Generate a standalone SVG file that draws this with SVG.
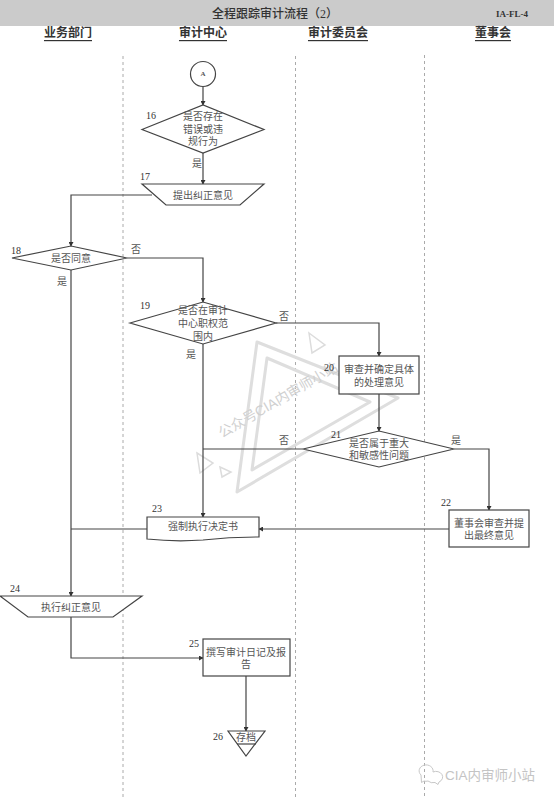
<svg xmlns="http://www.w3.org/2000/svg" width="554" height="799" viewBox="0 0 554 799">
<style>
text{font-family:"Liberation Serif","Noto Sans CJK SC",serif;fill:#555;font-size:10px;text-anchor:middle;dominant-baseline:central}
.n{text-anchor:start;fill:#333}
.h{font-size:12px;font-weight:700;fill:#333;text-decoration:underline}
.s{fill:#fff;stroke:#444;stroke-width:1.200}
.c{fill:none;stroke:#444;stroke-width:1.200}
.a{marker-end:url(#ar)}
.d{stroke:#aaa;stroke-width:1;stroke-dasharray:3 3;fill:none}
.w{fill:none;stroke:#dedede;stroke-width:3;stroke-linejoin:round}
.w2{fill:none;stroke:#dcdcdc;stroke-width:1.500}
.wt{fill:#d0d0d0;font-family:"Liberation Sans","Noto Sans CJK SC",sans-serif}
</style>
<defs><marker id="ar" markerWidth="5" markerHeight="5" refX="4" refY="2.5" orient="auto" markerUnits="userSpaceOnUse"><path d="M0 0L4.500 2.500L0 5Z" fill="#333"/></marker></defs>
<rect width="554" height="799" fill="#fff"/>
<g id="header">
<rect width="554" height="26" fill="#cbcbcb"/>
<text x="275" y="13.500" style="font-size:12px;font-weight:500;fill:#333">全程跟踪审计流程（2）</text>
<text x="512" y="14" style="font-size:9px;font-weight:700;fill:#333">IA-FL-4</text>
<text class="h" x="68" y="33">业务部门</text>
<text class="h" x="203" y="33">审计中心</text>
<text class="h" x="338" y="33">审计委员会</text>
<text class="h" x="493" y="33">董事会</text>
</g>
<g id="lanes">
<path class="d" d="M123 56V799M295.500 56V799M424.500 55V799"/>
</g>
<g id="watermark">
<path class="w" d="M237 492L257 342L398 398Z"/>
<path class="w" d="M252 470L267 358L370 402Z"/>
<path class="w2" d="M309 333L325 345L312 353Z"/>
<path class="w2" d="M197 453L213 463L200 473Z"/>
<path class="w2" d="M220 467L231 472L222 477Z"/>
<text class="wt" transform="translate(278 400) rotate(-30)" style="font-size:14px">公众号CIA内审师小站</text>
<text class="wt" x="490" y="775" style="font-size:13.500px;fill:#c4c4c4">CIA内审师小站</text>
<path class="w2" style="stroke:#c8c8c8;stroke-width:1" d="M421 775a7 6 0 1 1 12 -3a6.500 5.500 0 1 1 6 10l-1 2.500l-3 -2a7 6 0 0 1 -7 -1.500a6 5 0 0 1 -4 0l-2.500 1.500Z"/>
</g>
<g id="connectors">
<path class="c a" d="M203 87V105"/>
<path class="c a" d="M203 153V184"/>
<path class="c a" d="M152 195H71V246"/>
<path class="c a" d="M127 258H203V302"/>
<path class="c a" d="M276 323H379V356"/>
<path class="c a" d="M379 394V431"/>
<path class="c" d="M303 449H203"/>
<path class="c a" d="M203 344V517"/>
<path class="c a" d="M454 449H489V510"/>
<path class="c a" d="M449 529H259"/>
<path class="c" d="M147 529H71"/>
<path class="c a" d="M71 270V596"/>
<path class="c a" d="M71 617V658H203"/>
<path class="c a" d="M246 676V731"/>
</g>
<g id="A"><circle class="s" cx="203" cy="74" r="12.500"/><text x="203" y="74" style="font-size:7px;font-weight:700">A</text></g>
<g id="n16"><path class="s" d="M142 129.500L203 105L264 129.500L203 153Z"/><text x="203" y="116">是否存在</text><text x="203" y="129">错误或违</text><text x="203" y="141">规行为</text><text class="n" x="146" y="115">16</text></g>
<text x="197" y="163">是</text>
<g id="n17"><path class="s" d="M142 184H264L240 205H166Z"/><text x="203" y="195">提出纠正意见</text><text class="n" x="140" y="176">17</text></g>
<g id="n18"><path class="s" d="M12 258L71 246L127 258L71 270Z"/><text x="71" y="258">是否同意</text><text class="n" x="11" y="250">18</text></g>
<text x="136" y="249">否</text>
<text x="62" y="281">是</text>
<g id="n19"><path class="s" d="M130 323L203 302L276 323L203 344Z"/><text x="203" y="310">是否在审计</text><text x="203" y="323">中心职权范</text><text x="203" y="336">围内</text><text class="n" x="140" y="305">19</text></g>
<text x="284" y="316">否</text>
<text x="191" y="354">是</text>
<g id="n20"><rect class="s" x="339" y="356" width="80" height="38"/><text x="379" y="369">审查并确定具体</text><text x="379" y="382">的处理意见</text><text class="n" x="324" y="367">20</text></g>
<g id="n21"><path class="s" d="M303 449L379 431L454 449L379 467Z"/><text x="379" y="443">是否属于重大</text><text x="379" y="455">和敏感性问题</text><text class="n" x="331" y="434">21</text></g>
<text x="284" y="440">否</text>
<text x="456" y="440">是</text>
<g id="n22"><rect class="s" x="449" y="510" width="80" height="37"/><text x="489" y="523">董事会审查并提</text><text x="489" y="535">出最终意见</text><text class="n" x="441" y="502">22</text></g>
<g id="n23"><path class="s" d="M147 517H259V537Q230 537 203 540Q175 542 147 539Z"/><text x="203" y="526">强制执行决定书</text><text class="n" x="152" y="508">23</text></g>
<g id="n24"><path class="s" d="M0 596H142L113 617H28Z"/><text x="71" y="607">执行纠正意见</text><text class="n" x="10" y="588">24</text></g>
<g id="n25"><rect class="s" x="203" y="639" width="87" height="37"/><text x="246" y="652">撰写审计日记及报</text><text x="246" y="664">告</text><text class="n" x="189" y="643">25</text></g>
<g id="n26"><path class="s" d="M228 731H265L246 756Z"/><path class="c" d="M237 744H256"/><text x="246" y="737">存档</text><text class="n" x="213" y="736">26</text></g>
</svg>
